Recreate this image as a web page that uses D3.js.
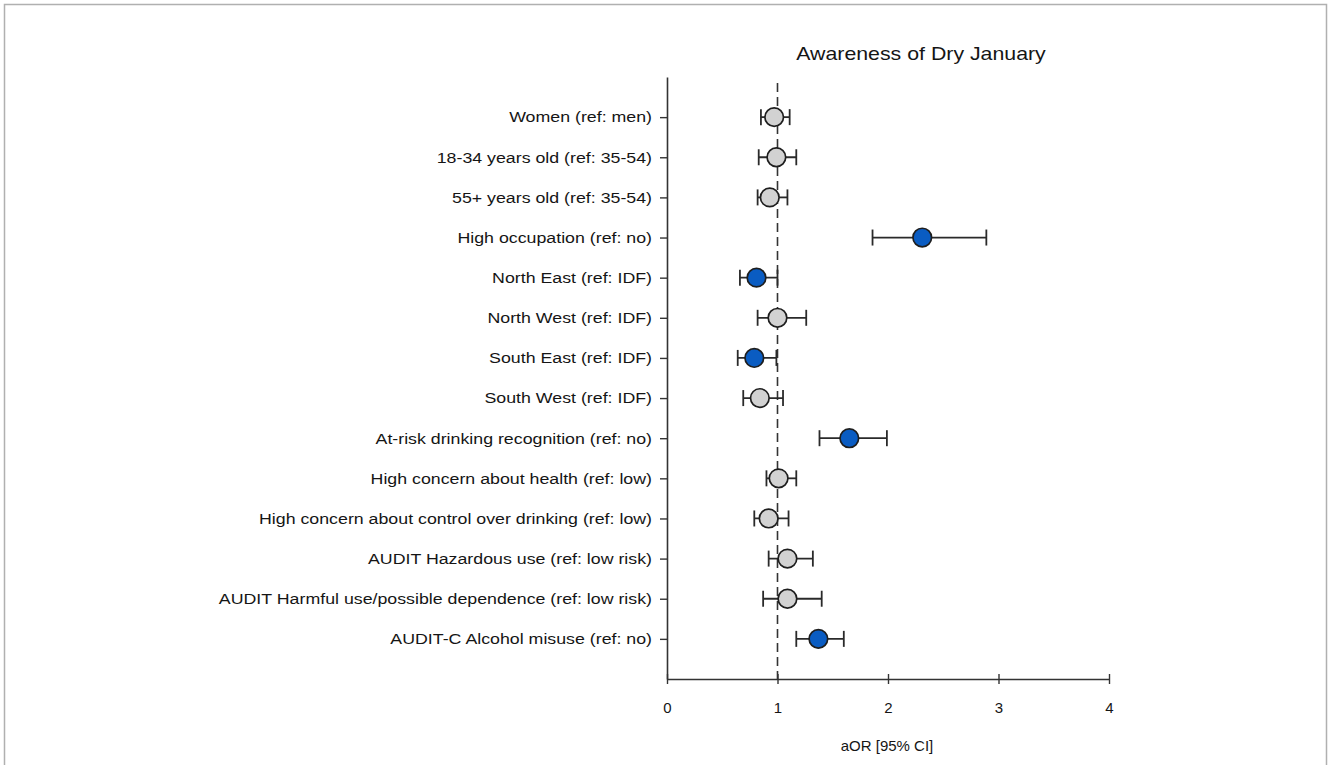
<!DOCTYPE html>
<html>
<head>
<meta charset="utf-8">
<script src="https://cdn.jsdelivr.net/npm/d3@7"></script>
<style>
  html, body { margin: 0; padding: 0; background: #fff; }
  svg { display: block; }
  text { font-family: "Liberation Sans", Arial, sans-serif; fill: #151515; }
</style>
</head>
<body>
<svg id="chart" width="1328" height="765"></svg>
<script>
const categories = [
  "Women (ref: men)",
  "18-34 years old (ref: 35-54)",
  "55+ years old (ref: 35-54)",
  "High occupation (ref: no)",
  "North East (ref: IDF)",
  "North West (ref: IDF)",
  "South East (ref: IDF)",
  "South West (ref: IDF)",
  "At-risk drinking recognition (ref: no)",
  "High concern about health (ref: low)",
  "High concern about control over drinking (ref: low)",
  "AUDIT Hazardous use (ref: low risk)",
  "AUDIT Harmful use/possible dependence (ref: low risk)",
  "AUDIT-C Alcohol misuse (ref: no)"
];
const aOR    = [0.97, 0.99, 0.93, 2.31, 0.81, 1.00, 0.79, 0.84, 1.65, 1.01, 0.92, 1.09, 1.09, 1.37];
const ciLow  = [0.85, 0.83, 0.82, 1.86, 0.66, 0.82, 0.64, 0.69, 1.38, 0.90, 0.79, 0.92, 0.87, 1.17];
const ciHigh = [1.11, 1.17, 1.09, 2.89, 1.00, 1.26, 0.99, 1.05, 1.99, 1.17, 1.10, 1.32, 1.40, 1.60];
const significant = [false, false, false, true, true, false, true, false, true, false, false, false, false, true];
const xTicks = [0, 1, 2, 3, 4];
const refValue = 1;
const title = "Awareness of Dry January";
const xTitle = "aOR [95% CI]";

const svg = d3.select("#chart");
const stretch = 1.185;

// outer frame (top, left, right)
svg.append("path")
  .attr("d", "M4.5,765 L4.5,4.5 L1326.5,4.5 L1326.5,765")
  .attr("fill", "none").attr("stroke", "#b0b0b0").attr("stroke-width", 1.5);

const x = d3.scaleLinear().domain([0, 4]).range([667, 1109]);
const y = d3.scalePoint().domain(categories).range([77, 679]).padding(1);

const data = categories.map((c, i) => ({ c, v: aOR[i], lo: ciLow[i], hi: ciHigh[i], sig: significant[i] }));

// Y axis
const yAxis = svg.append("g").attr("transform", "translate(667,0)")
  .call(d3.axisLeft(y).tickSize(7).tickPadding(8).tickSizeOuter(0));
yAxis.select(".domain").attr("stroke", "#333").attr("stroke-width", 1.6);
yAxis.selectAll(".tick line").attr("stroke", "#333").attr("stroke-width", 1.4);
yAxis.selectAll(".tick text")
  .attr("x", -15 / stretch)
  .attr("transform", `scale(${stretch},1)`)
  .style("font-size", "15px").attr("fill", "#151515")
  .style("font-family", '"Liberation Sans", Arial, sans-serif');

// X axis
const xAxis = svg.append("g").attr("transform", "translate(0,679)")
  .call(d3.axisBottom(x).tickValues(xTicks).tickFormat(d3.format("d")).tickSize(5).tickPadding(18).tickSizeOuter(0));
xAxis.select(".domain").attr("stroke", "#333").attr("stroke-width", 1.6);
xAxis.selectAll(".tick line").attr("stroke", "#333").attr("stroke-width", 1.4).attr("y1", -5);
xAxis.selectAll(".tick text").style("font-size", "15px").attr("fill", "#151515")
  .style("font-family", '"Liberation Sans", Arial, sans-serif');

// reference dashed line
svg.append("line")
  .attr("x1", x(refValue)).attr("x2", x(refValue))
  .attr("y1", 83).attr("y2", 679)
  .attr("stroke", "#333").attr("stroke-width", 1.6)
  .attr("stroke-dasharray", "9,5");

// error bars
const capH = 8;
const g = svg.append("g");
const rows = g.selectAll("g.row").data(data).join("g").attr("class", "row");
rows.append("line")
  .attr("x1", d => x(d.lo)).attr("x2", d => x(d.hi))
  .attr("y1", d => y(d.c)).attr("y2", d => y(d.c))
  .attr("stroke", "#2a2a2a").attr("stroke-width", 1.8);
rows.append("line")
  .attr("x1", d => x(d.lo)).attr("x2", d => x(d.lo))
  .attr("y1", d => y(d.c) - capH).attr("y2", d => y(d.c) + capH)
  .attr("stroke", "#2a2a2a").attr("stroke-width", 1.8);
rows.append("line")
  .attr("x1", d => x(d.hi)).attr("x2", d => x(d.hi))
  .attr("y1", d => y(d.c) - capH).attr("y2", d => y(d.c) + capH)
  .attr("stroke", "#2a2a2a").attr("stroke-width", 1.8);
rows.append("circle")
  .attr("cx", d => x(d.v)).attr("cy", d => y(d.c)).attr("r", 9.3)
  .attr("fill", d => d.sig ? "#0a5cc2" : "#d2d2d2")
  .attr("stroke", "#1e1e1e").attr("stroke-width", 1.7);

// titles
svg.append("text")
  .attr("transform", `translate(921,60) scale(${stretch},1)`)
  .attr("text-anchor", "middle")
  .style("font-size", "18px").text(title);
svg.append("text").attr("x", 887).attr("y", 751).attr("text-anchor", "middle")
  .style("font-size", "15px").text(xTitle);
</script>
</body>
</html>
